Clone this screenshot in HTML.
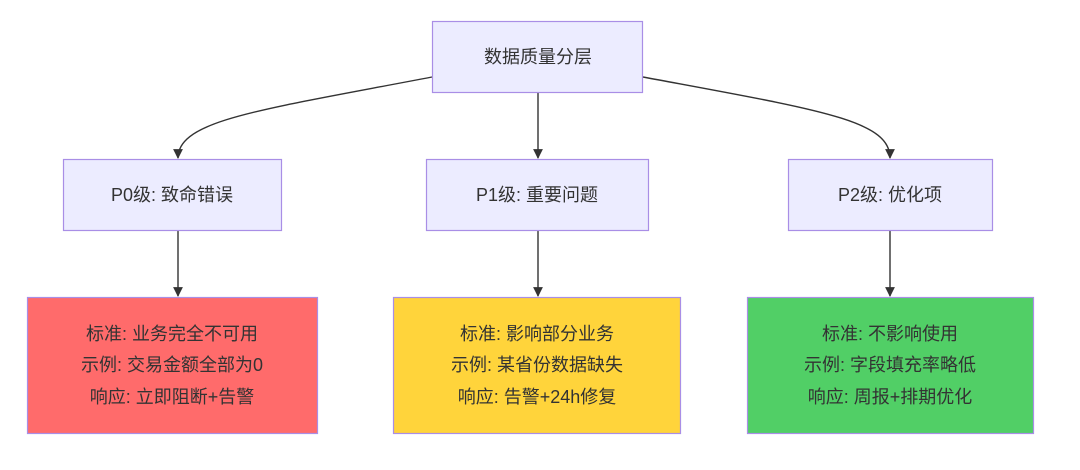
<!DOCTYPE html>
<html><head><meta charset="utf-8"><style>
html,body{margin:0;padding:0;background:#fff;}
svg{display:block}
text{font-family:"Liberation Sans","Noto Sans CJK SC",sans-serif;font-size:18px;fill:#333;text-anchor:middle;dominant-baseline:central}
</style></head><body>
<svg width="1080" height="470" viewBox="0 0 1080 470" xmlns="http://www.w3.org/2000/svg">
<defs><marker id="a" viewBox="0 0 10 10" refX="9" refY="5" markerWidth="7" markerHeight="7" orient="auto"><path d="M0,0 L10,5 L0,10 z" fill="#333"/></marker></defs>
<g fill="none" stroke="#333" stroke-width="1.4">
<path d="M432,77 C260,110 178,120 178,158" marker-end="url(#a)"/>
<path d="M538,93 L538,158" marker-end="url(#a)"/>
<path d="M643,77 C820,110 890,120 890,158" marker-end="url(#a)"/>
<path d="M178,231 L178,296" marker-end="url(#a)"/>
<path d="M538,231 L538,296" marker-end="url(#a)"/>
<path d="M890,231 L890,296" marker-end="url(#a)"/>
</g>
<g stroke="#a98ee6" stroke-width="1.2">
<rect x="432.5" y="21.5" width="210" height="71" fill="#ececff"/>
<rect x="63.5" y="159.5" width="218" height="71" fill="#ececff"/>
<rect x="426.5" y="159.5" width="222" height="71" fill="#ececff"/>
<rect x="788.5" y="159.5" width="204" height="71" fill="#ececff"/>
<rect x="27.5" y="297.5" width="290" height="136" fill="#ff6b6b"/>
<rect x="393.5" y="297.5" width="287" height="136" fill="#ffd43b"/>
<rect x="747.5" y="297.5" width="286" height="136" fill="#51cf66"/>
</g>
<text x="538" y="57">数据质量分层</text>
<text x="172" y="195">P0级: 致命错误</text>
<text x="537" y="195">P1级: 重要问题</text>
<text x="890" y="195">P2级: 优化项</text>
<text x="172" y="334">标准: 业务完全不可用</text>
<text x="172" y="365">示例: 交易金额全部为0</text>
<text x="172" y="397">响应: 立即阻断+告警</text>
<text x="537" y="334">标准: 影响部分业务</text>
<text x="537" y="365">示例: 某省份数据缺失</text>
<text x="537" y="397">响应: 告警+24h修复</text>
<text x="890" y="334">标准: 不影响使用</text>
<text x="890" y="365">示例: 字段填充率略低</text>
<text x="890" y="397">响应: 周报+排期优化</text>
</svg>
</body></html>
